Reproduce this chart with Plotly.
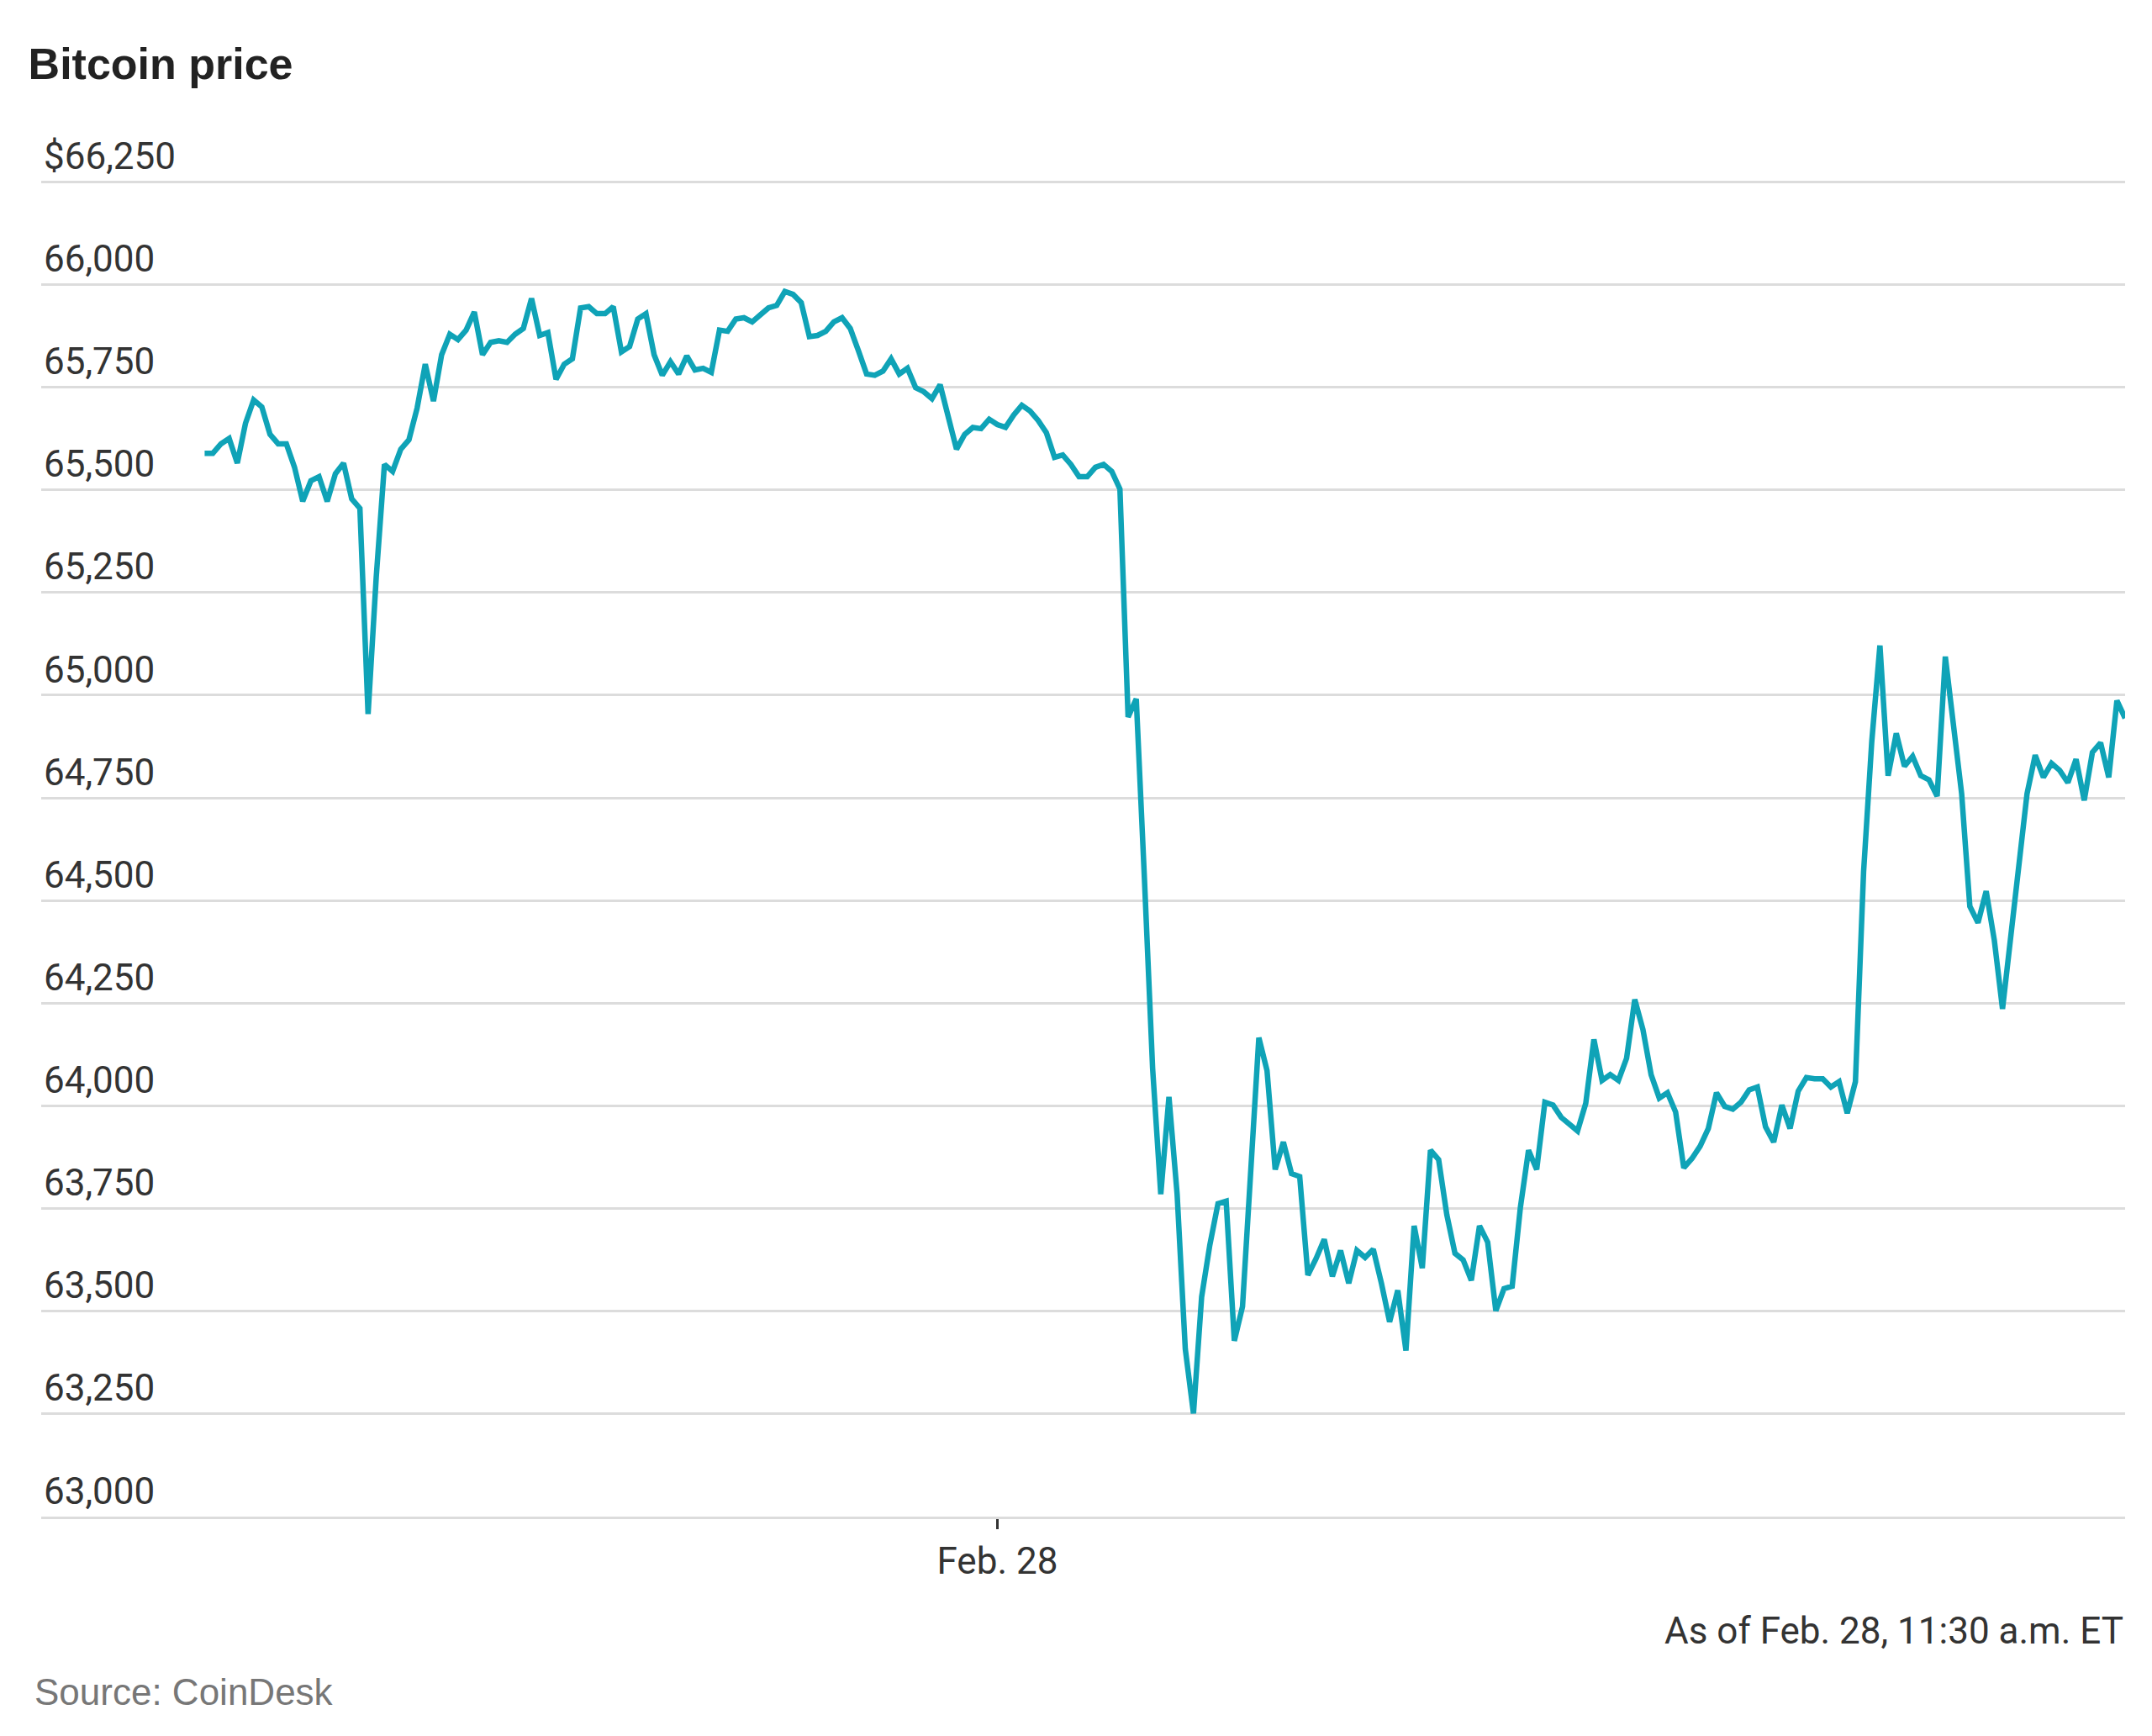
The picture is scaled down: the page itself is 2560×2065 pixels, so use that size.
import plotly.graph_objects as go
import pandas as pd

# 5-minute prices, Feb 27 16:00 -> Feb 28 11:30 ET
prices = [
    65589, 65589, 65612, 65625, 65565, 65662, 65719, 65702, 65635, 65612,
    65612, 65555, 65472, 65522, 65532, 65472, 65539, 65565, 65478, 65455,
    64954, 65288, 65562, 65545, 65599, 65622, 65699, 65806, 65716, 65829,
    65879, 65866, 65889, 65933, 65829, 65859, 65863, 65859, 65879, 65893,
    65966, 65876, 65883, 65769, 65806, 65819, 65943, 65946, 65929, 65929,
    65946, 65836, 65849, 65916, 65929, 65829, 65779, 65812, 65782, 65826,
    65792, 65796, 65786, 65889, 65886, 65916, 65919, 65909, 65926, 65943,
    65949, 65983, 65976, 65956, 65873, 65876, 65886, 65909, 65919, 65893,
    65839, 65782, 65779, 65789, 65819, 65782, 65796, 65749, 65739, 65722,
    65756, 65672, 65599, 65635, 65652, 65649, 65672, 65659, 65652, 65682,
    65706, 65692, 65669, 65639, 65579, 65585, 65562, 65532, 65532, 65555,
    65562, 65545, 65502, 64947, 64991, 64553, 64092, 63785, 64022, 63785,
    63408, 63251, 63535, 63661, 63762, 63768, 63428, 63511, 63835, 64166,
    64086, 63845, 63912, 63835, 63828, 63588, 63628, 63675, 63585, 63648,
    63568, 63648, 63631, 63651, 63568, 63474, 63551, 63404, 63708, 63605,
    63892, 63869, 63735, 63641, 63625, 63575, 63708, 63668, 63501, 63555,
    63561, 63752, 63892, 63845, 64009, 64002, 63972, 63955, 63939, 64006,
    64162, 64062, 64076, 64062, 64116, 64259, 64186, 64076, 64019, 64032,
    63985, 63849, 63872, 63902, 63945, 64032, 63999, 63992, 64009, 64039,
    64046, 63949, 63912, 64002, 63945, 64036, 64069, 64066, 64066, 64046,
    64059, 63982, 64059, 64570, 64887, 65121, 64804, 64907, 64827, 64851,
    64804, 64794, 64754, 65094, 64921, 64760, 64486, 64446, 64523, 64403,
    64236, 64403, 64577, 64760, 64854, 64800, 64834, 64817, 64787, 64844,
    64744, 64861, 64884, 64800, 64987, 64944,
]
times = pd.date_range(end="2024-02-28 11:30", periods=len(prices), freq="5min")

y_ticks = [63000, 63250, 63500, 63750, 64000, 64250, 64500, 64750,
           65000, 65250, 65500, 65750, 66000, 66250]
y_labels = [f"{v:,}" for v in y_ticks[:-1]] + ["$66,250"]

font = "Liberation Sans Narrow, Roboto, sans-serif"

fig = go.Figure(go.Scatter(x=times, y=prices, mode="lines",
                           line=dict(color="#0fa3b7", width=6.5), hoverinfo="skip"))

fig.update_layout(
    width=2560, height=2065,
    margin=dict(l=41, r=40, t=135, b=269),
    plot_bgcolor="white", paper_bgcolor="white",
    showlegend=False,
    font=dict(family=font, size=44, color="#333333"),
    title=dict(text="<b>Bitcoin price</b>", x=0.01, xanchor="left", y=0.967,
               yanchor="middle", font=dict(family="Liberation Sans, Roboto", size=52, color="#222222")),
)
fig.update_yaxes(range=[63000, 66400], tickvals=y_ticks, ticktext=y_labels,
                 ticklabelposition="inside top", showgrid=True, gridcolor="#dcdcdc",
                 gridwidth=3, zeroline=False, showline=False, ticks="",
                 tickfont=dict(size=44, color="#333333"))
fig.update_xaxes(range=["2024-02-27 14:15", "2024-02-28 11:30"],
                 tickvals=["2024-02-28 00:00"], ticktext=["Feb. 28"],
                 showgrid=False, zeroline=False, showline=True,
                 linecolor="#dcdcdc", linewidth=3,
                 ticks="outside", ticklen=12, tickwidth=3, tickcolor="#333333",
                 tickfont=dict(size=44, color="#333333"))

fig.add_annotation(text="As of Feb. 28, 11:30 a.m. ET", xref="paper", yref="paper",
                   x=1, y=-(1932 - 1796) / 1661, xanchor="right", yanchor="middle",
                   showarrow=False, font=dict(size=44, color="#333333"))
fig.add_annotation(text="Source: CoinDesk", xref="paper", yref="paper",
                   x=-0.004, y=-(2004 - 1796) / 1661, xanchor="left", yanchor="middle",
                   showarrow=False, font=dict(family="Liberation Sans, Roboto", size=44, color="#777777"))

fig.write_html("out.html")
